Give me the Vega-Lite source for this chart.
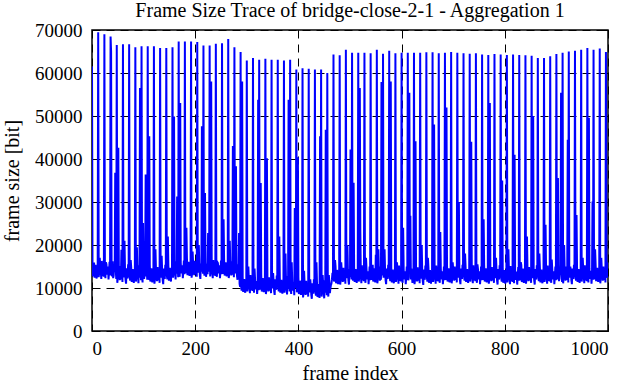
{"$schema":"https://vega.github.io/schema/vega-lite/v6.json","width":516,"height":301,"autosize":"none","padding":{"left":92,"top":30,"right":23,"bottom":51},"background":"white",
"title":{"text":"Frame Size Trace of bridge-close-2-1 - Aggregation 1","font":"Liberation Serif","fontSize":20,"fontWeight":"normal","color":"black","anchor":"middle","offset":0},
"config":{"font":"Liberation Serif","style":{"guide-label":{"font":"Liberation Serif","fontSize":19,"fill":"black"},"guide-title":{"font":"Liberation Serif","fontSize":20,"fill":"black"}},"view":{"stroke":"black","strokeWidth":1.5},"axis":{"labelFont":"Liberation Serif","labelFontSize":19,"labelColor":"black","titleFont":"Liberation Serif","titleFontSize":20,"titleFontWeight":"normal","titleColor":"black","domain":false,"tickColor":"black","tickWidth":1,"tickSize":-6,"gridColor":"black","gridWidth":1,"gridDash":[8,6],"gridOpacity":1}},
"data":{"values":[
{"x":0,"y":61500},{"x":1,"y":13700},{"x":2,"y":12700},{"x":3,"y":15500},{"x":4,"y":15900},{"x":5,"y":12400},{"x":6,"y":13500},{"x":7,"y":15400},{"x":8,"y":13000},{"x":9,"y":12200},{"x":10,"y":15100},{"x":11,"y":13600},
{"x":12,"y":69500},{"x":13,"y":12500},{"x":14,"y":13600},{"x":15,"y":17000},{"x":16,"y":15200},{"x":17,"y":13900},{"x":18,"y":12100},{"x":19,"y":16300},{"x":20,"y":13400},{"x":21,"y":12800},{"x":22,"y":15600},{"x":23,"y":12600},
{"x":24,"y":69000},{"x":25,"y":14000},{"x":26,"y":12300},{"x":27,"y":16000},{"x":28,"y":15500},{"x":29,"y":13100},{"x":30,"y":14200},{"x":31,"y":15000},{"x":32,"y":12000},{"x":33,"y":13700},{"x":34,"y":16100},{"x":35,"y":12900},
{"x":36,"y":68500},{"x":37,"y":65000},{"x":38,"y":13500},{"x":39,"y":12700},{"x":40,"y":16200},{"x":41,"y":12300},{"x":42,"y":12900},{"x":43,"y":15400},{"x":44,"y":13800},{"x":45,"y":36800},{"x":46,"y":14500},{"x":47,"y":12100},
{"x":48,"y":66500},{"x":49,"y":11200},{"x":50,"y":12200},{"x":51,"y":42600},{"x":52,"y":14400},{"x":53,"y":13400},{"x":54,"y":11800},{"x":55,"y":15100},{"x":56,"y":12000},{"x":57,"y":18900},{"x":58,"y":14500},{"x":59,"y":11400},
{"x":60,"y":66700},{"x":61,"y":12500},{"x":62,"y":13200},{"x":63,"y":21000},{"x":64,"y":14000},{"x":65,"y":11900},{"x":66,"y":11000},{"x":67,"y":14600},{"x":68,"y":12700},{"x":69,"y":12200},{"x":70,"y":15500},{"x":71,"y":12900},
{"x":72,"y":66700},{"x":73,"y":12700},{"x":74,"y":11700},{"x":75,"y":16500},{"x":76,"y":14900},{"x":77,"y":11400},{"x":78,"y":12500},{"x":79,"y":14400},{"x":80,"y":12000},{"x":81,"y":11200},{"x":82,"y":14100},{"x":83,"y":12600},
{"x":84,"y":66000},{"x":85,"y":11500},{"x":86,"y":12600},{"x":87,"y":19500},{"x":88,"y":14200},{"x":89,"y":12900},{"x":90,"y":11100},{"x":91,"y":15300},{"x":92,"y":12400},{"x":93,"y":56500},{"x":94,"y":14600},{"x":95,"y":11800},
{"x":96,"y":66200},{"x":97,"y":13000},{"x":98,"y":11300},{"x":99,"y":25100},{"x":100,"y":14500},{"x":101,"y":12100},{"x":102,"y":13200},{"x":103,"y":14000},{"x":104,"y":36400},{"x":105,"y":12700},{"x":106,"y":15100},{"x":107,"y":11900},
{"x":108,"y":66200},{"x":109,"y":11900},{"x":110,"y":12700},{"x":111,"y":45300},{"x":112,"y":15400},{"x":113,"y":11500},{"x":114,"y":12100},{"x":115,"y":14600},{"x":116,"y":13000},{"x":117,"y":11300},{"x":118,"y":13700},{"x":119,"y":12200},
{"x":120,"y":66200},{"x":121,"y":11000},{"x":122,"y":12000},{"x":123,"y":19000},{"x":124,"y":14200},{"x":125,"y":13200},{"x":126,"y":11600},{"x":127,"y":14900},{"x":128,"y":11800},{"x":129,"y":12800},{"x":130,"y":14300},{"x":131,"y":11200},
{"x":132,"y":65800},{"x":133,"y":12400},{"x":134,"y":13100},{"x":135,"y":17500},{"x":136,"y":13900},{"x":137,"y":11800},{"x":138,"y":10900},{"x":139,"y":14500},{"x":140,"y":12600},{"x":141,"y":12100},{"x":142,"y":15400},{"x":143,"y":12800},
{"x":144,"y":65800},{"x":145,"y":13000},{"x":146,"y":12000},{"x":147,"y":22000},{"x":148,"y":15200},{"x":149,"y":11700},{"x":150,"y":12800},{"x":151,"y":14700},{"x":152,"y":12300},{"x":153,"y":11500},{"x":154,"y":14400},{"x":155,"y":12900},
{"x":156,"y":66000},{"x":157,"y":12400},{"x":158,"y":13500},{"x":159,"y":49900},{"x":160,"y":15100},{"x":161,"y":13800},{"x":162,"y":12000},{"x":163,"y":16200},{"x":164,"y":13300},{"x":165,"y":31300},{"x":166,"y":15500},{"x":167,"y":12500},
{"x":168,"y":67300},{"x":169,"y":14300},{"x":170,"y":12600},{"x":171,"y":53000},{"x":172,"y":15800},{"x":173,"y":13400},{"x":174,"y":14500},{"x":175,"y":15300},{"x":176,"y":12300},{"x":177,"y":14000},{"x":178,"y":16400},{"x":179,"y":13200},
{"x":180,"y":67300},{"x":181,"y":13400},{"x":182,"y":14200},{"x":183,"y":24000},{"x":184,"y":16900},{"x":185,"y":13000},{"x":186,"y":13600},{"x":187,"y":16100},{"x":188,"y":14500},{"x":189,"y":12800},{"x":190,"y":15200},{"x":191,"y":13700},
{"x":192,"y":67300},{"x":193,"y":12400},{"x":194,"y":13400},{"x":195,"y":18500},{"x":196,"y":15600},{"x":197,"y":14600},{"x":198,"y":13000},{"x":199,"y":16300},{"x":200,"y":13200},{"x":201,"y":14200},{"x":202,"y":15700},{"x":203,"y":12600},
{"x":204,"y":67200},{"x":205,"y":13600},{"x":206,"y":14300},{"x":207,"y":20000},{"x":208,"y":15100},{"x":209,"y":13000},{"x":210,"y":12100},{"x":211,"y":15700},{"x":212,"y":13800},{"x":213,"y":47600},{"x":214,"y":16600},{"x":215,"y":13300},
{"x":216,"y":66400},{"x":217,"y":13900},{"x":218,"y":12900},{"x":219,"y":32100},{"x":220,"y":16100},{"x":221,"y":12600},{"x":222,"y":13700},{"x":223,"y":15600},{"x":224,"y":13200},{"x":225,"y":22800},{"x":226,"y":15300},{"x":227,"y":13800},
{"x":228,"y":66400},{"x":229,"y":12700},{"x":230,"y":13800},{"x":231,"y":58000},{"x":232,"y":15400},{"x":233,"y":14100},{"x":234,"y":12300},{"x":235,"y":16500},{"x":236,"y":13600},{"x":237,"y":13000},{"x":238,"y":15800},{"x":239,"y":12800},
{"x":240,"y":66800},{"x":241,"y":14300},{"x":242,"y":12600},{"x":243,"y":16000},{"x":244,"y":15800},{"x":245,"y":13400},{"x":246,"y":14500},{"x":247,"y":15300},{"x":248,"y":12300},{"x":249,"y":14000},{"x":250,"y":16400},{"x":251,"y":13200},
{"x":252,"y":66900},{"x":253,"y":13300},{"x":254,"y":14100},{"x":255,"y":26000},{"x":256,"y":16800},{"x":257,"y":12900},{"x":258,"y":13500},{"x":259,"y":16000},{"x":260,"y":14400},{"x":261,"y":12700},{"x":262,"y":15100},{"x":263,"y":13600},
{"x":264,"y":67900},{"x":265,"y":12300},{"x":266,"y":13300},{"x":267,"y":21000},{"x":268,"y":15500},{"x":269,"y":14500},{"x":270,"y":12900},{"x":271,"y":16200},{"x":272,"y":13100},{"x":273,"y":43000},{"x":274,"y":15600},{"x":275,"y":12500},
{"x":276,"y":66000},{"x":277,"y":13400},{"x":278,"y":14100},{"x":279,"y":38300},{"x":280,"y":14900},{"x":281,"y":12800},{"x":282,"y":11900},{"x":283,"y":15500},{"x":284,"y":13600},{"x":285,"y":22800},{"x":286,"y":11000},{"x":287,"y":10300},
{"x":288,"y":64900},{"x":289,"y":10400},{"x":290,"y":9400},{"x":291,"y":58000},{"x":292,"y":12600},{"x":293,"y":9100},{"x":294,"y":10200},{"x":295,"y":12100},{"x":296,"y":9700},{"x":297,"y":8900},{"x":298,"y":11800},{"x":299,"y":10300},
{"x":300,"y":62900},{"x":301,"y":9200},{"x":302,"y":10300},{"x":303,"y":15000},{"x":304,"y":11900},{"x":305,"y":10600},{"x":306,"y":8800},{"x":307,"y":13000},{"x":308,"y":10100},{"x":309,"y":9500},{"x":310,"y":12300},{"x":311,"y":9300},
{"x":312,"y":63500},{"x":313,"y":10600},{"x":314,"y":8900},{"x":315,"y":14500},{"x":316,"y":12100},{"x":317,"y":9700},{"x":318,"y":10800},{"x":319,"y":11600},{"x":320,"y":8600},{"x":321,"y":10300},{"x":322,"y":53800},{"x":323,"y":9500},
{"x":324,"y":63100},{"x":325,"y":9600},{"x":326,"y":10400},{"x":327,"y":34400},{"x":328,"y":13100},{"x":329,"y":9200},{"x":330,"y":9800},{"x":331,"y":12300},{"x":332,"y":10700},{"x":333,"y":9000},{"x":334,"y":11400},{"x":335,"y":9900},
{"x":336,"y":63300},{"x":337,"y":8600},{"x":338,"y":9600},{"x":339,"y":40200},{"x":340,"y":11800},{"x":341,"y":10800},{"x":342,"y":9200},{"x":343,"y":12500},{"x":344,"y":9400},{"x":345,"y":10400},{"x":346,"y":11900},{"x":347,"y":8800},
{"x":348,"y":63100},{"x":349,"y":9900},{"x":350,"y":10600},{"x":351,"y":13500},{"x":352,"y":11400},{"x":353,"y":9300},{"x":354,"y":8400},{"x":355,"y":12000},{"x":356,"y":10100},{"x":357,"y":9600},{"x":358,"y":12900},{"x":359,"y":10300},
{"x":360,"y":63100},{"x":361,"y":10200},{"x":362,"y":9200},{"x":363,"y":22000},{"x":364,"y":12400},{"x":365,"y":8900},{"x":366,"y":10000},{"x":367,"y":11900},{"x":368,"y":9500},{"x":369,"y":8700},{"x":370,"y":11600},{"x":371,"y":10100},
{"x":372,"y":62900},{"x":373,"y":8900},{"x":374,"y":10000},{"x":375,"y":18000},{"x":376,"y":11600},{"x":377,"y":10300},{"x":378,"y":8500},{"x":379,"y":12700},{"x":380,"y":9800},{"x":381,"y":53800},{"x":382,"y":12000},{"x":383,"y":9200},
{"x":384,"y":63100},{"x":385,"y":10300},{"x":386,"y":8600},{"x":387,"y":16000},{"x":388,"y":11800},{"x":389,"y":9400},{"x":390,"y":10500},{"x":391,"y":11300},{"x":392,"y":8300},{"x":393,"y":28600},{"x":394,"y":12400},{"x":395,"y":10000},
{"x":396,"y":60800},{"x":397,"y":9000},{"x":398,"y":9800},{"x":399,"y":40400},{"x":400,"y":12500},{"x":401,"y":8600},{"x":402,"y":9200},{"x":403,"y":11700},{"x":404,"y":10100},{"x":405,"y":8400},{"x":406,"y":10800},{"x":407,"y":9300},
{"x":408,"y":61100},{"x":409,"y":7800},{"x":410,"y":8800},{"x":411,"y":14000},{"x":412,"y":11000},{"x":413,"y":10000},{"x":414,"y":8400},{"x":415,"y":11700},{"x":416,"y":8600},{"x":417,"y":9600},{"x":418,"y":11100},{"x":419,"y":8000},
{"x":420,"y":61000},{"x":421,"y":9000},{"x":422,"y":9700},{"x":423,"y":12000},{"x":424,"y":10500},{"x":425,"y":8400},{"x":426,"y":7500},{"x":427,"y":11100},{"x":428,"y":9200},{"x":429,"y":8700},{"x":430,"y":12000},{"x":431,"y":9400},
{"x":432,"y":60800},{"x":433,"y":9200},{"x":434,"y":8200},{"x":435,"y":16000},{"x":436,"y":11400},{"x":437,"y":7900},{"x":438,"y":9000},{"x":439,"y":10900},{"x":440,"y":8500},{"x":441,"y":7700},{"x":442,"y":45300},{"x":443,"y":9100},
{"x":444,"y":60800},{"x":445,"y":8000},{"x":446,"y":9100},{"x":447,"y":13000},{"x":448,"y":10700},{"x":449,"y":9400},{"x":450,"y":7600},{"x":451,"y":11800},{"x":452,"y":8900},{"x":453,"y":46800},{"x":454,"y":11100},{"x":455,"y":8300},
{"x":456,"y":60000},{"x":457,"y":9700},{"x":458,"y":8000},{"x":459,"y":13000},{"x":460,"y":11200},{"x":461,"y":8800},{"x":462,"y":9900},{"x":463,"y":10700},{"x":464,"y":11000},{"x":465,"y":12000},{"x":466,"y":13500},{"x":467,"y":11800},
{"x":468,"y":64300},{"x":469,"y":11500},{"x":470,"y":12300},{"x":471,"y":16500},{"x":472,"y":15000},{"x":473,"y":11100},{"x":474,"y":11700},{"x":475,"y":14200},{"x":476,"y":12600},{"x":477,"y":10900},{"x":478,"y":13300},{"x":479,"y":11800},
{"x":480,"y":64100},{"x":481,"y":10800},{"x":482,"y":11800},{"x":483,"y":16000},{"x":484,"y":14000},{"x":485,"y":13000},{"x":486,"y":11400},{"x":487,"y":14700},{"x":488,"y":11600},{"x":489,"y":12600},{"x":490,"y":14100},{"x":491,"y":11000},
{"x":492,"y":65400},{"x":493,"y":12300},{"x":494,"y":13000},{"x":495,"y":20000},{"x":496,"y":13800},{"x":497,"y":11700},{"x":498,"y":10800},{"x":499,"y":14400},{"x":500,"y":12500},{"x":501,"y":42200},{"x":502,"y":15300},{"x":503,"y":12000},
{"x":504,"y":64700},{"x":505,"y":12700},{"x":506,"y":11700},{"x":507,"y":34500},{"x":508,"y":14900},{"x":509,"y":11400},{"x":510,"y":12500},{"x":511,"y":14400},{"x":512,"y":12000},{"x":513,"y":11200},{"x":514,"y":14100},{"x":515,"y":12600},
{"x":516,"y":64700},{"x":517,"y":11500},{"x":518,"y":12600},{"x":519,"y":56500},{"x":520,"y":23200},{"x":521,"y":12900},{"x":522,"y":11100},{"x":523,"y":15300},{"x":524,"y":12400},{"x":525,"y":11800},{"x":526,"y":14600},{"x":527,"y":11600},
{"x":528,"y":64700},{"x":529,"y":12900},{"x":530,"y":11200},{"x":531,"y":17000},{"x":532,"y":14400},{"x":533,"y":12000},{"x":534,"y":13100},{"x":535,"y":13900},{"x":536,"y":10900},{"x":537,"y":12600},{"x":538,"y":15000},{"x":539,"y":11800},
{"x":540,"y":64600},{"x":541,"y":11900},{"x":542,"y":12700},{"x":543,"y":15000},{"x":544,"y":15400},{"x":545,"y":11500},{"x":546,"y":12100},{"x":547,"y":14600},{"x":548,"y":13000},{"x":549,"y":11300},{"x":550,"y":17700},{"x":551,"y":12200},
{"x":552,"y":65400},{"x":553,"y":11100},{"x":554,"y":12100},{"x":555,"y":19000},{"x":556,"y":14300},{"x":557,"y":13300},{"x":558,"y":11700},{"x":559,"y":15000},{"x":560,"y":11900},{"x":561,"y":57900},{"x":562,"y":14400},{"x":563,"y":12900},
{"x":564,"y":64500},{"x":565,"y":12400},{"x":566,"y":13100},{"x":567,"y":19000},{"x":568,"y":13900},{"x":569,"y":11800},{"x":570,"y":10900},{"x":571,"y":14500},{"x":572,"y":12600},{"x":573,"y":12100},{"x":574,"y":15400},{"x":575,"y":12800},
{"x":576,"y":65200},{"x":577,"y":12600},{"x":578,"y":11600},{"x":579,"y":58000},{"x":580,"y":14800},{"x":581,"y":11300},{"x":582,"y":12400},{"x":583,"y":14300},{"x":584,"y":11900},{"x":585,"y":11100},{"x":586,"y":14000},{"x":587,"y":12500},
{"x":588,"y":64600},{"x":589,"y":11400},{"x":590,"y":12500},{"x":591,"y":16000},{"x":592,"y":14100},{"x":593,"y":12800},{"x":594,"y":11000},{"x":595,"y":15200},{"x":596,"y":12300},{"x":597,"y":11700},{"x":598,"y":14500},{"x":599,"y":11500},
{"x":600,"y":64700},{"x":601,"y":12900},{"x":602,"y":11200},{"x":603,"y":24000},{"x":604,"y":14400},{"x":605,"y":12000},{"x":606,"y":13100},{"x":607,"y":13900},{"x":608,"y":10900},{"x":609,"y":12600},{"x":610,"y":15000},{"x":611,"y":11800},
{"x":612,"y":64700},{"x":613,"y":11800},{"x":614,"y":12600},{"x":615,"y":55400},{"x":616,"y":15300},{"x":617,"y":26800},{"x":618,"y":12000},{"x":619,"y":14500},{"x":620,"y":12900},{"x":621,"y":11200},{"x":622,"y":13600},{"x":623,"y":12100},
{"x":624,"y":64700},{"x":625,"y":10900},{"x":626,"y":11900},{"x":627,"y":44100},{"x":628,"y":14100},{"x":629,"y":13100},{"x":630,"y":11500},{"x":631,"y":14800},{"x":632,"y":11700},{"x":633,"y":12700},{"x":634,"y":14200},{"x":635,"y":11100},
{"x":636,"y":64700},{"x":637,"y":12200},{"x":638,"y":12900},{"x":639,"y":20000},{"x":640,"y":13700},{"x":641,"y":11600},{"x":642,"y":10700},{"x":643,"y":14300},{"x":644,"y":12400},{"x":645,"y":11900},{"x":646,"y":15200},{"x":647,"y":12600},
{"x":648,"y":64800},{"x":649,"y":12500},{"x":650,"y":11500},{"x":651,"y":17000},{"x":652,"y":14700},{"x":653,"y":11200},{"x":654,"y":12300},{"x":655,"y":14200},{"x":656,"y":11800},{"x":657,"y":11000},{"x":658,"y":13900},{"x":659,"y":12400},
{"x":660,"y":64800},{"x":661,"y":11400},{"x":662,"y":12500},{"x":663,"y":48000},{"x":664,"y":14100},{"x":665,"y":12800},{"x":666,"y":11000},{"x":667,"y":15200},{"x":668,"y":12300},{"x":669,"y":11700},{"x":670,"y":14500},{"x":671,"y":11500},
{"x":672,"y":64600},{"x":673,"y":12900},{"x":674,"y":11200},{"x":675,"y":23000},{"x":676,"y":14400},{"x":677,"y":12000},{"x":678,"y":13100},{"x":679,"y":13900},{"x":680,"y":10900},{"x":681,"y":12600},{"x":682,"y":15000},{"x":683,"y":11800},
{"x":684,"y":64700},{"x":685,"y":11900},{"x":686,"y":12700},{"x":687,"y":52000},{"x":688,"y":15400},{"x":689,"y":11500},{"x":690,"y":12100},{"x":691,"y":14600},{"x":692,"y":13000},{"x":693,"y":11300},{"x":694,"y":13700},{"x":695,"y":12200},
{"x":696,"y":64900},{"x":697,"y":11100},{"x":698,"y":12100},{"x":699,"y":16000},{"x":700,"y":14300},{"x":701,"y":13300},{"x":702,"y":11700},{"x":703,"y":15000},{"x":704,"y":11900},{"x":705,"y":12900},{"x":706,"y":14400},{"x":707,"y":11300},
{"x":708,"y":64700},{"x":709,"y":12400},{"x":710,"y":13100},{"x":711,"y":30000},{"x":712,"y":13900},{"x":713,"y":11800},{"x":714,"y":10900},{"x":715,"y":14500},{"x":716,"y":12600},{"x":717,"y":12100},{"x":718,"y":15400},{"x":719,"y":12800},
{"x":720,"y":64600},{"x":721,"y":12700},{"x":722,"y":11700},{"x":723,"y":18000},{"x":724,"y":14900},{"x":725,"y":11400},{"x":726,"y":12500},{"x":727,"y":14400},{"x":728,"y":12000},{"x":729,"y":11200},{"x":730,"y":14100},{"x":731,"y":12600},
{"x":732,"y":64500},{"x":733,"y":11500},{"x":734,"y":12600},{"x":735,"y":44000},{"x":736,"y":14200},{"x":737,"y":12900},{"x":738,"y":11100},{"x":739,"y":15300},{"x":740,"y":12400},{"x":741,"y":11800},{"x":742,"y":14600},{"x":743,"y":11600},
{"x":744,"y":64600},{"x":745,"y":12900},{"x":746,"y":11200},{"x":747,"y":15500},{"x":748,"y":14400},{"x":749,"y":12000},{"x":750,"y":13100},{"x":751,"y":13900},{"x":752,"y":10900},{"x":753,"y":12600},{"x":754,"y":15000},{"x":755,"y":11800},
{"x":756,"y":64300},{"x":757,"y":11900},{"x":758,"y":12700},{"x":759,"y":26000},{"x":760,"y":15400},{"x":761,"y":11500},{"x":762,"y":12100},{"x":763,"y":14600},{"x":764,"y":13000},{"x":765,"y":11300},{"x":766,"y":13700},{"x":767,"y":12200},
{"x":768,"y":64200},{"x":769,"y":11000},{"x":770,"y":12000},{"x":771,"y":53000},{"x":772,"y":14200},{"x":773,"y":13200},{"x":774,"y":11600},{"x":775,"y":14900},{"x":776,"y":11800},{"x":777,"y":12800},{"x":778,"y":14300},{"x":779,"y":11200},
{"x":780,"y":64400},{"x":781,"y":12300},{"x":782,"y":13000},{"x":783,"y":17000},{"x":784,"y":13800},{"x":785,"y":11700},{"x":786,"y":10800},{"x":787,"y":14400},{"x":788,"y":12500},{"x":789,"y":12000},{"x":790,"y":15300},{"x":791,"y":12700},
{"x":792,"y":64300},{"x":793,"y":12500},{"x":794,"y":11500},{"x":795,"y":35000},{"x":796,"y":14700},{"x":797,"y":11200},{"x":798,"y":12300},{"x":799,"y":14200},{"x":800,"y":11800},{"x":801,"y":11000},{"x":802,"y":13900},{"x":803,"y":12400},
{"x":804,"y":64200},{"x":805,"y":11300},{"x":806,"y":12400},{"x":807,"y":19000},{"x":808,"y":14000},{"x":809,"y":12700},{"x":810,"y":10900},{"x":811,"y":15100},{"x":812,"y":12200},{"x":813,"y":11600},{"x":814,"y":14400},{"x":815,"y":11400},
{"x":816,"y":64300},{"x":817,"y":12800},{"x":818,"y":11100},{"x":819,"y":41000},{"x":820,"y":14300},{"x":821,"y":11900},{"x":822,"y":13000},{"x":823,"y":13800},{"x":824,"y":10800},{"x":825,"y":12500},{"x":826,"y":14900},{"x":827,"y":11700},
{"x":828,"y":64200},{"x":829,"y":11800},{"x":830,"y":12600},{"x":831,"y":16000},{"x":832,"y":15300},{"x":833,"y":11400},{"x":834,"y":12000},{"x":835,"y":14500},{"x":836,"y":12900},{"x":837,"y":11200},{"x":838,"y":13600},{"x":839,"y":12100},
{"x":840,"y":64100},{"x":841,"y":11000},{"x":842,"y":12000},{"x":843,"y":22000},{"x":844,"y":14200},{"x":845,"y":13200},{"x":846,"y":11600},{"x":847,"y":14900},{"x":848,"y":11800},{"x":849,"y":12800},{"x":850,"y":14300},{"x":851,"y":11200},
{"x":852,"y":64000},{"x":853,"y":12300},{"x":854,"y":13000},{"x":855,"y":50000},{"x":856,"y":13800},{"x":857,"y":11700},{"x":858,"y":10800},{"x":859,"y":14400},{"x":860,"y":12500},{"x":861,"y":12000},{"x":862,"y":15300},{"x":863,"y":12700},
{"x":864,"y":63500},{"x":865,"y":12600},{"x":866,"y":11600},{"x":867,"y":18000},{"x":868,"y":14800},{"x":869,"y":11300},{"x":870,"y":12400},{"x":871,"y":14300},{"x":872,"y":11900},{"x":873,"y":11100},{"x":874,"y":14000},{"x":875,"y":12500},
{"x":876,"y":63500},{"x":877,"y":11400},{"x":878,"y":12500},{"x":879,"y":24700},{"x":880,"y":14100},{"x":881,"y":12800},{"x":882,"y":11000},{"x":883,"y":15200},{"x":884,"y":12300},{"x":885,"y":11700},{"x":886,"y":14500},{"x":887,"y":11500},
{"x":888,"y":63900},{"x":889,"y":12900},{"x":890,"y":11200},{"x":891,"y":16600},{"x":892,"y":14400},{"x":893,"y":12000},{"x":894,"y":13100},{"x":895,"y":13900},{"x":896,"y":10900},{"x":897,"y":12600},{"x":898,"y":15000},{"x":899,"y":11800},
{"x":900,"y":64400},{"x":901,"y":12000},{"x":902,"y":12800},{"x":903,"y":35600},{"x":904,"y":15500},{"x":905,"y":11600},{"x":906,"y":12200},{"x":907,"y":14700},{"x":908,"y":13100},{"x":909,"y":55400},{"x":910,"y":13800},{"x":911,"y":11400},
{"x":912,"y":64700},{"x":913,"y":11100},{"x":914,"y":12100},{"x":915,"y":20000},{"x":916,"y":14300},{"x":917,"y":13300},{"x":918,"y":11700},{"x":919,"y":15000},{"x":920,"y":11900},{"x":921,"y":12900},{"x":922,"y":44500},{"x":923,"y":11300},
{"x":924,"y":65000},{"x":925,"y":12400},{"x":926,"y":13100},{"x":927,"y":15000},{"x":928,"y":13900},{"x":929,"y":11800},{"x":930,"y":10900},{"x":931,"y":14500},{"x":932,"y":12600},{"x":933,"y":12100},{"x":934,"y":15400},{"x":935,"y":12800},
{"x":936,"y":65200},{"x":937,"y":12700},{"x":938,"y":11700},{"x":939,"y":27000},{"x":940,"y":14900},{"x":941,"y":11400},{"x":942,"y":12500},{"x":943,"y":14400},{"x":944,"y":12000},{"x":945,"y":11200},{"x":946,"y":14100},{"x":947,"y":12600},
{"x":948,"y":65400},{"x":949,"y":11500},{"x":950,"y":12600},{"x":951,"y":17000},{"x":952,"y":14200},{"x":953,"y":12900},{"x":954,"y":11100},{"x":955,"y":15300},{"x":956,"y":12400},{"x":957,"y":11800},{"x":958,"y":14600},{"x":959,"y":11600},
{"x":960,"y":65800},{"x":961,"y":13000},{"x":962,"y":11300},{"x":963,"y":49600},{"x":964,"y":14500},{"x":965,"y":12100},{"x":966,"y":13200},{"x":967,"y":14000},{"x":968,"y":11000},{"x":969,"y":12700},{"x":970,"y":30100},{"x":971,"y":11900},
{"x":972,"y":65400},{"x":973,"y":12000},{"x":974,"y":12800},{"x":975,"y":19000},{"x":976,"y":15500},{"x":977,"y":11600},{"x":978,"y":12200},{"x":979,"y":14700},{"x":980,"y":13100},{"x":981,"y":11400},{"x":982,"y":13800},{"x":983,"y":12300},
{"x":984,"y":65700},{"x":985,"y":11100},{"x":986,"y":12100},{"x":987,"y":17000},{"x":988,"y":14300},{"x":989,"y":13300},{"x":990,"y":11700},{"x":991,"y":15000},{"x":992,"y":11900},{"x":993,"y":12900},{"x":994,"y":14400},{"x":995,"y":11300},
{"x":996,"y":64900},{"x":997,"y":13000},{"x":998,"y":12400},{"x":999,"y":16000}
]},
"layer":[
{"mark":{"type":"line","color":"#0000ff","strokeWidth":2,"clip":true},
"encoding":{
"x":{"field":"x","type":"quantitative","scale":{"domain":[0,1000],"nice":false,"zero":false},"axis":{"orient":"bottom","title":"frame index","values":[0,200,400,600,800,1000],"format":"d","grid":true,"labelFont":"Liberation Serif","labelFontSize":19,"labelPadding":14,"titlePadding":5}},
"y":{"field":"y","type":"quantitative","scale":{"domain":[0,70000],"nice":false},"axis":{"orient":"left","title":"frame size [bit]","values":[0,10000,20000,30000,40000,50000,60000,70000],"format":"d","grid":true,"labelFont":"Liberation Serif","labelFontSize":19,"labelPadding":16,"titlePadding":12}}}},
{"mark":{"type":"line","opacity":0},
"encoding":{
"x":{"field":"x","type":"quantitative","scale":{"domain":[0,1000],"nice":false,"zero":false},"axis":{"orient":"top","title":null,"labels":false,"grid":false,"values":[0,200,400,600,800,1000]}},
"y":{"field":"y","type":"quantitative","scale":{"domain":[0,70000],"nice":false},"axis":{"orient":"right","title":null,"labels":false,"grid":false,"values":[0,10000,20000,30000,40000,50000,60000,70000]}}}}
],
"resolve":{"axis":{"x":"independent","y":"independent"}}
}
